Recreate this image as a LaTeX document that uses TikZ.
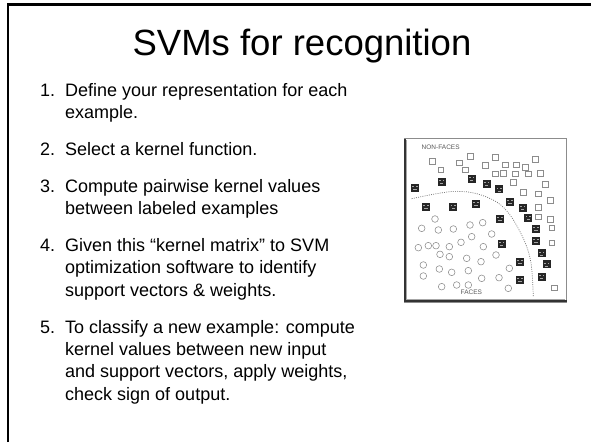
\documentclass[tikz,border=0pt]{standalone}
\usepackage{fontspec}
\setmainfont{Liberation Sans}
\begin{document}
\begin{tikzpicture}[x=1pt,y=-1pt,
  titletext/.style={font=\fontsize{36.5}{40}\selectfont, inner sep=0pt},
  bodytext/.style={font=\fontsize{18}{21}\selectfont, inner sep=0pt, anchor=base west},
  sqline/.style={draw=black!45, line width=0.55pt},
  circline/.style={draw=black!45, line width=0.55pt},
  facebox/.style={fill=black!85},
  facemark/.style={fill=black!35},
  boundary/.style={draw=black!55, line width=0.7pt, dash pattern=on 0.9pt off 1.3pt},
  labeltext/.style={font=\fontsize{6.5}{7}\selectfont, text=black!65, inner sep=0pt}
]
\useasboundingbox (0,0) rectangle (591,442);
\fill[white] (0,0) rectangle (591,442);

% slide frame (left and top edges)
\draw[line width=2.3pt] (7.8,442) -- (7.8,4.6) -- (591,4.6);

% title
\node[titletext, anchor=base] (title) at (302,55) {SVMs for recognition};

% numbered steps
\node[bodytext] (n1)  at (40,96) {1.};
\node[bodytext] (t1a) at (65,96) {Define your representation for each};
\node[bodytext] (t1b) at (65,118.3) {example.};
\node[bodytext] (n2)  at (40,155.3) {2.};
\node[bodytext] (t2a) at (65,155.3) {Select a kernel function.};
\node[bodytext] (n3)  at (40,192.3) {3.};
\node[bodytext] (t3a) at (65,192.3) {Compute pairwise kernel values};
\node[bodytext] (t3b) at (65,214.6) {between labeled examples};
\node[bodytext] (n4)  at (40,251.6) {4.};
\node[bodytext] (t4a) at (65,251.6) {Given this “kernel matrix” to SVM};
\node[bodytext] (t4b) at (65,273.9) {optimization software to identify};
\node[bodytext] (t4c) at (65,296.2) {support vectors \& weights.};
\node[bodytext] (n5)  at (40,333.2) {5.};
\node[bodytext] (t5a) at (65,333.2) {To classify a new example: compute};
\node[bodytext] (t5b) at (65,355.5) {kernel values between new input};
\node[bodytext] (t5c) at (65,377.8) {and support vectors, apply weights,};
\node[bodytext] (t5d) at (65,400.1) {check sign of output.};

% face / non-face scatter figure
\begin{scope}[shift={(400,132)}, scale=1/3]
  % picture border
  \draw[black!45, line width=0.5pt] (12,20) rectangle (500,511);
  \draw[black!80, line width=2pt] (15,20) -- (15,508) -- (500,508);
  \draw[black!35, line width=0.5pt] (20,24) -- (20,503) -- (496,503);

  \node[labeltext] (nonfaces) at (122,45) {NON-FACES};
  \node[labeltext] (faces) at (214,482) {FACES};

  % decision boundary
  \draw[boundary] plot[smooth, tension=0.6] coordinates
    {(35,200) (110,185) (170,178) (230,185) (290,210) (330,249)
     (365,309) (385,359) (395,409) (400,494)};

  % non-face examples
  \foreach \p in {(97,87),(178,92),(210,73),(122,113),(195,113),(255,100),
                  (285,75),(315,98),(348,98),(375,105),(405,82),(285,125),
                  (310,123),(345,125),(385,125),(420,123),(340,150),(435,157),
                  (370,180),(415,185),(450,205),(415,225),(415,254),(450,261),
                  (455,287),(455,332),(462,467)}
    \draw[sqline] \p +(-8.5,-8.5) rectangle +(8.5,8.5);

  % face examples
  \foreach \p in {(105,261),(65,289),(115,294),(160,291),(210,279),
                  (248,272),(275,306),(215,314),(55,347),(85,341),(108,341),
                  (148,344),(183,331),(250,344),(120,367),(148,374),(200,379),
                  (243,389),(288,369),(70,399),(118,411),(155,421),(205,416),
                  (245,439),(297,437),(328,409),(70,432),(125,464),(170,459),
                  (205,459),(325,469)}
    \draw[circline] \p circle (10);

  % support vectors (image patches near the boundary)
  \foreach \p in {(45,168),(125,150),(215,140),(260,155),(298,172),(78,225),
                  (160,225),(228,215),(330,210),(368,228),(300,261),(385,257),
                  (408,291),(408,327),(305,336),(425,364),(440,397),(360,389),
                  (425,434),(360,444)}
  {
    \fill[facebox] \p +(-12,-12) rectangle +(12,12);
    \fill[facemark] \p +(-8,-5) rectangle +(-3,-2);
    \fill[facemark] \p +(3,-5) rectangle +(8,-2);
    \fill[facemark] \p +(-5,4) rectangle +(5,6);
  }
\end{scope}
\end{tikzpicture}
\end{document}
